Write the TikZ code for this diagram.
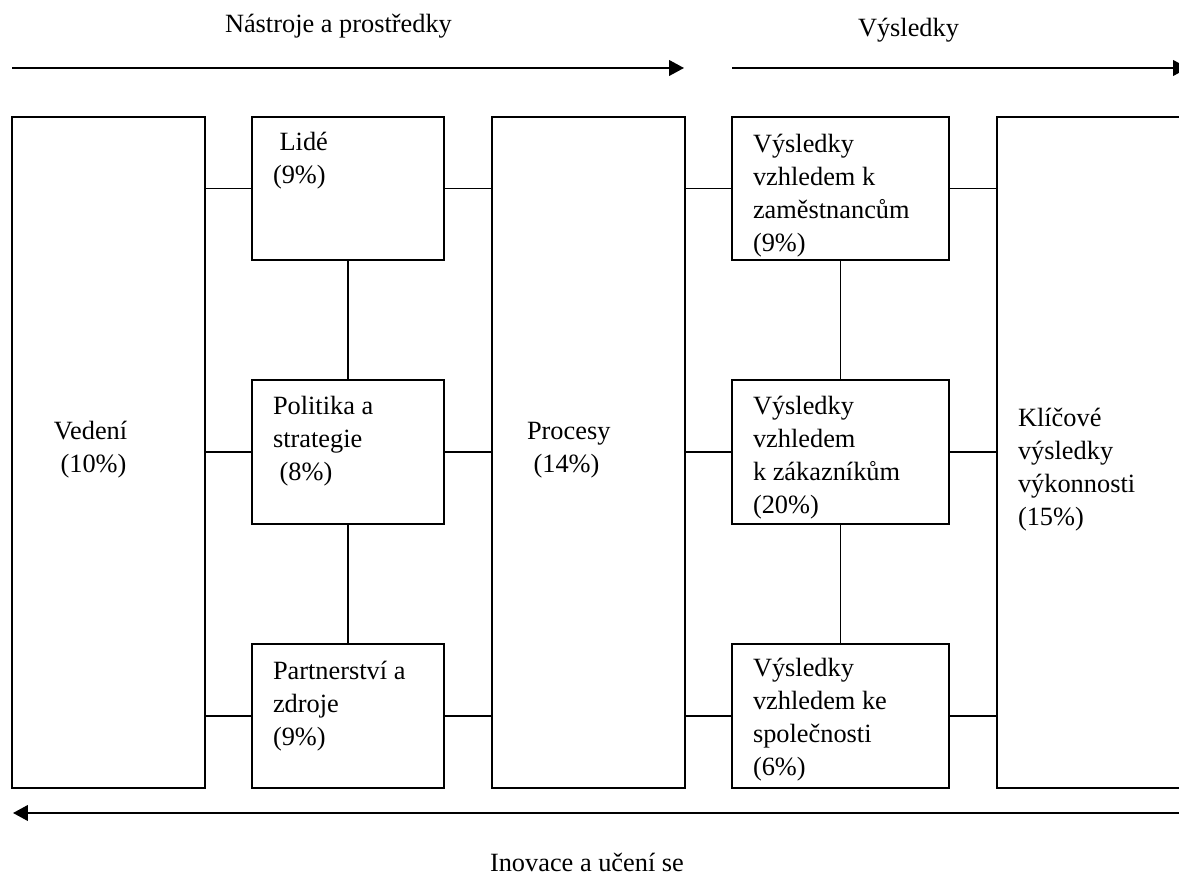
\documentclass[tikz,border=0pt]{standalone}
\usepackage{fontspec}
\setmainfont{Liberation Serif}
\usetikzlibrary{arrows.meta,fit,calc}
\begin{document}
\begin{tikzpicture}[x=0.43636pt,y=-0.43636pt,
  box/.style={draw, rectangle, line width=0.85pt, inner sep=0pt, outer sep=0pt},
  lbl/.style={inner sep=0pt, outer sep=0pt, align=left, anchor=base west,
    font=\fontsize{11.5}{14.4}\selectfont},
  link/.style={line width=0.85pt},
  flow/.style={line width=0.85pt, -{Triangle[length=6.5pt,width=6.8pt]}}]
\clip (0,0) rectangle (1179,875);

% enablers column boxes
\node[box, fit={(12,117) (205,788)}] (vedeni) {};
\node[box, fit={(252,117) (444,260)}] (lide) {};
\node[box, fit={(252,380) (444,524)}] (politika) {};
\node[box, fit={(252,644) (444,788)}] (partner) {};
\node[box, fit={(492,117) (685,788)}] (procesy) {};
% results column boxes
\node[box, fit={(732,117) (949,260)}] (vz1) {};
\node[box, fit={(732,380) (949,524)}] (vz2) {};
\node[box, fit={(732,644) (949,788)}] (vz3) {};
\node[box, fit={(997,117) (1200,788)}] (klic) {};

% box texts (each placed at the baseline of its last line)
\node[lbl] (tvedeni) at (54,473) {Vedení\\~(10\%)};
\node[lbl] (tlide) at (273,184) {~Lidé\\(9\%)};
\node[lbl] (tpolitika) at (273,481) {Politika a\\strategie\\~(8\%)};
\node[lbl] (tpartner) at (273,745) {Partnerství a\\zdroje\\(9\%)};
\node[lbl] (tprocesy) at (527,473) {Procesy\\~(14\%)};
\node[lbl] (tvz1) at (753,252) {Výsledky\\vzhledem k\\zaměstnancům\\(9\%)};
\node[lbl] (tvz2) at (753,514) {Výsledky\\vzhledem\\k zákazníkům\\(20\%)};
\node[lbl] (tvz3) at (753,776) {Výsledky\\vzhledem ke\\společnosti\\(6\%)};
\node[lbl] (tklic) at (1018,526) {Klíčové\\výsledky\\výkonnosti\\(15\%)};

% horizontal links
\draw[link] (vedeni.east |- lide.west) -- (lide.west);
\draw[link] (vedeni.east |- politika.west) -- (politika.west);
\draw[link] (vedeni.east |- partner.west) -- (partner.west);
\draw[link] (lide.east) -- (procesy.west |- lide.east);
\draw[link] (politika.east) -- (procesy.west |- politika.east);
\draw[link] (partner.east) -- (procesy.west |- partner.east);
\draw[link] (procesy.east |- vz1.west) -- (vz1.west);
\draw[link] (procesy.east |- vz2.west) -- (vz2.west);
\draw[link] (procesy.east |- vz3.west) -- (vz3.west);
\draw[link] (vz1.east) -- (klic.west |- vz1.east);
\draw[link] (vz2.east) -- (klic.west |- vz2.east);
\draw[link] (vz3.east) -- (klic.west |- vz3.east);
% vertical links
\draw[link] (lide.south) -- (politika.north);
\draw[link] (politika.south) -- (partner.north);
\draw[link] (vz1.south) -- (vz2.north);
\draw[link] (vz2.south) -- (vz3.north);

% flow arrows and their captions
\coordinate (a1s) at (12,68);
\coordinate (a1e) at (684,68);
\coordinate (a2s) at (732,68);
\coordinate (a2e) at (1188,68);
\coordinate (a3s) at (1190,813);
\coordinate (a3e) at (13,813);
\draw[flow] (a1s) -- (a1e);
\draw[flow] (a2s) -- (a2e);
\draw[flow] (a3s) -- (a3e);
\node[lbl] (cap1) at (225,33) {Nástroje a prostředky};
\node[lbl] (cap2) at (858,37) {Výsledky};
\node[lbl] (cap3) at (490,871) {Inovace a učení se};
\end{tikzpicture}
\end{document}
